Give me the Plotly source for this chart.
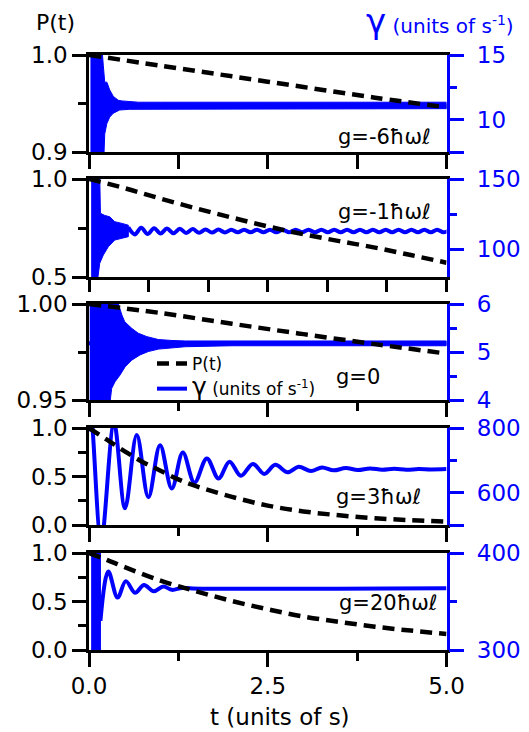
import plotly.graph_objects as go

BLUE = "#0000FF"
FONT = "DejaVu Sans"

# ---------------- data ----------------
# panel 1 : g = -6 hbar omega l
t_P1 = [0, 1, 2, 3, 4, 5]
P1 = [1.0, 0.989, 0.978, 0.967, 0.956, 0.946]
t_up1 = [0.02, 0.18, 0.20, 0.22, 0.25, 0.29, 0.34, 0.41, 0.46, 0.57, 0.69, 1.0, 5.0]
up1 = [15.6, 15.6, 14.2, 12.9, 12.9, 12.3, 11.8, 11.5, 11.45, 11.4, 11.35, 11.35, 11.35]
t_lo1 = [0.02, 0.21, 0.22, 0.25, 0.29, 0.34, 0.43, 0.57, 0.69, 1.0, 5.0]
lo1 = [7.4, 7.4, 8.9, 9.7, 10.2, 10.5, 10.75, 10.8, 10.85, 10.85, 10.85]
t_g1 = [0.5, 5.0]
g1 = [11.1, 11.1]

# panel 2 : g = -1 hbar omega l
t_P2 = [0, 0.5, 1, 1.5, 2, 2.5, 3, 3.5, 4, 4.5, 5]
P2 = [1.0, 0.953, 0.9, 0.85, 0.803, 0.758, 0.718, 0.683, 0.65, 0.612, 0.573]
t_up2 = [0.03, 0.15, 0.16, 0.22, 0.29, 0.36, 0.46, 0.55]
up2 = [152, 152, 125.5, 124, 123, 119.5, 118.3, 117]
t_lo2 = [0.03, 0.12, 0.15, 0.20, 0.27, 0.36, 0.46, 0.55]
lo2 = [78, 78, 89.8, 95.7, 101.6, 106.4, 107.6, 108.8]
t_g2 = [0.55, 0.64, 0.73, 0.82, 0.91, 1.00, 1.09, 1.18, 1.27, 1.36, 1.45, 1.54,
        1.63, 1.72, 1.81, 1.90, 1.99, 2.08, 2.17, 2.26, 2.35, 2.44, 2.53, 2.62,
        2.71, 2.80, 2.89, 2.98, 3.07, 3.16, 3.25, 3.34, 3.43, 3.52, 3.61, 3.70,
        3.79, 3.88, 3.97, 4.06, 4.15, 4.24, 4.33, 4.42, 4.51, 4.60, 4.69, 4.78,
        4.87, 4.96, 5.05]
g2 = [115.5, 110.4, 115.2, 110.7, 114.9, 111.0, 114.6, 111.2, 114.4, 111.4, 114.2, 111.6,
      114.0, 111.7, 113.9, 111.8, 113.8, 111.9, 113.8, 111.9, 113.8, 111.9, 113.8, 111.9,
      113.8, 111.9, 113.8, 111.9, 113.8, 111.9, 113.8, 111.9, 113.8, 111.9, 113.8, 111.9,
      113.8, 111.9, 113.8, 111.9, 113.8, 111.9, 113.8, 111.9, 113.8, 111.9, 113.8, 111.9,
      113.8, 111.9, 113.8]

# panel 3 : g = 0
t_P3 = [0, 1, 2, 3, 4, 5]
P3 = [1.0, 0.9953, 0.9897, 0.9843, 0.9791, 0.9742]
t_up3 = [0.01, 0.39, 0.46, 0.50, 0.60, 0.69, 0.81, 0.97, 1.16, 1.35, 2.0, 5.0]
up3 = [6.1, 6.1, 5.77, 5.63, 5.49, 5.39, 5.32, 5.26, 5.24, 5.23, 5.23, 5.23]
t_lo3 = [0.01, 0.29, 0.317, 0.364, 0.434, 0.504, 0.597, 0.714, 0.831, 0.971, 1.158, 1.345, 2.0, 5.0]
lo3 = [3.9, 3.9, 4.24, 4.38, 4.52, 4.69, 4.83, 4.94, 5.01, 5.06, 5.09, 5.11, 5.13, 5.13]
t_g3 = [0.0, 5.0]
g3 = [5.18, 5.18]

# panel 4 : g = 3 hbar omega l
t_P4 = [0, 0.25, 0.5, 0.75, 1.0, 1.25, 1.5, 2.0, 2.5, 3.0, 3.5, 4.0, 4.5, 5.0]
P4 = [1.0, 0.88, 0.76, 0.65, 0.56, 0.47, 0.40, 0.29, 0.20, 0.14, 0.10, 0.07, 0.05, 0.035]
t_g4 = [0.0, 0.03, 0.17, 0.35, 0.504, 0.668, 0.831, 0.994, 1.158, 1.312, 1.475, 1.648,
        1.811, 1.965, 2.124, 2.292, 2.451, 2.605, 2.777, 2.931, 3.104, 3.258, 3.421,
        3.59, 3.76, 3.93, 4.10, 4.27, 4.44, 4.61, 4.78, 5.0]
g4 = [790, 830, 450, 815, 552, 778, 586, 747, 613, 724, 631, 706,
      644, 696, 652, 689, 658, 686, 663, 680, 667, 678, 669,
      676, 670, 675, 671, 674, 671, 673, 672, 673]

# panel 5 : g = 20 hbar omega l
t_P5 = [0, 0.25, 0.5, 1, 1.5, 2, 2.5, 3, 3.5, 4, 4.5, 5]
P5 = [1.0, 0.93, 0.855, 0.715, 0.605, 0.505, 0.42, 0.345, 0.29, 0.24, 0.2, 0.165]
t_up5 = [0.03, 0.16]
up5 = [405, 405]
t_lo5 = [0.03, 0.16]
lo5 = [295, 295]
t_g5 = [0.16, 0.27, 0.40, 0.515, 0.644, 0.77, 0.905, 1.04, 1.16, 1.30, 1.45, 5.0]
g5 = [330, 381, 354, 371, 359, 367, 360.5, 365.5, 362, 364, 363.4, 363.6]

panel_labels = ["g=-6ħωℓ", "g=-1ħωℓ", "g=0", "g=3ħωℓ", "g=20ħωℓ"]
x_ticks = [0.0, 2.5, 5.0]
P_ranges = [[0.9, 1.0], [0.5, 1.0], [0.95, 1.0], [0.0, 1.0], [0.0, 1.0]]
P_ticks = [[0.9, 1.0], [0.5, 1.0], [0.95, 1.0], [0.0, 0.5, 1.0], [0.0, 0.5, 1.0]]
G_ranges = [[7.5, 15], [80, 150], [4, 6], [500, 800], [300, 400]]
G_ticks = [[7.5, 10, 15], [100, 150], [4, 5, 6], [500, 600, 800], [300, 400]]
G_ticktext = [["", "10", "15"], ["100", "150"], ["4", "5", "6"], ["", "600", "800"], ["300", "400"]]

P_t = [t_P1, t_P2, t_P3, t_P4, t_P5]
P_v = [P1, P2, P3, P4, P5]
bands = [(t_up1, up1, t_lo1, lo1), (t_up2, up2, t_lo2, lo2), (t_up3, up3, t_lo3, lo3),
         None, (t_up5, up5, t_lo5, lo5)]
lines = [(t_g1, g1), (t_g2, g2), (t_g3, g3), (t_g4, g4), (t_g5, g5)]

# ---------------- layout helpers (styling) ----------------
W, H = 529, 732
XL, XR = 89, 446.5
YDOM = [(55, 152), (179, 277), (304, 400), (428, 525), (553, 650)]
P_fmt = [".1f", ".1f", ".2f", ".1f", ".1f"]
P_minor = [0.05, 0.25, 0.025, 0.25, 0.25]
G_minor = [2.5, 25, 0.5, 100, 50]
x_tickvals_panel = [
    [0, 1.25, 2.5, 3.75, 5],
    [0, 0.8333, 1.6667, 2.5, 3.3333, 4.1667, 5],
    x_ticks, x_ticks, x_ticks]

fig = go.Figure()
layout = {}

for i in range(5):
    n = i + 1
    xa = "x" if n == 1 else f"x{n}"
    yg = "y" if n == 1 else f"y{2 * n - 1}"
    yp = f"y{2 * n}"
    # gamma: dense oscillation envelope
    if bands[i] is not None:
        tu, u, tl, lo = bands[i]
        fig.add_trace(go.Scatter(
            x=list(tu) + list(tl)[::-1], y=list(u) + list(lo)[::-1],
            fill="toself", fillcolor=BLUE, mode="lines",
            line=dict(color=BLUE, width=1), hoverinfo="skip",
            showlegend=False, xaxis=xa, yaxis=yg))
    tg, gv = lines[i]
    fig.add_trace(go.Scatter(
        x=tg, y=gv, mode="lines",
        line=dict(color=BLUE, width=4, shape="spline", smoothing=1.0),
        name='<span style="font-size:25px">γ</span> (units of s<sup>-1</sup>)',
        showlegend=(n == 3), legendrank=2, xaxis=xa, yaxis=yg))
    # P(t)
    fig.add_trace(go.Scatter(
        x=P_t[i], y=P_v[i], mode="lines",
        line=dict(color="black", width=4.5, dash="12px,7px", shape="spline"),
        name="P(t)", showlegend=(n == 3), legendrank=1, xaxis=xa, yaxis=yp))

    y0, y1 = YDOM[i]
    dom = [1 - y1 / H, 1 - y0 / H]
    xkey = "xaxis" if n == 1 else f"xaxis{n}"
    gkey = "yaxis" if n == 1 else f"yaxis{2 * n - 1}"
    pkey = f"yaxis{2 * n}"
    is_last = n == 5
    xminor = dict(ticks="", ticklen=0) if n in (1, 2) else dict(
        ticks="outside", ticklen=8, tickwidth=2.5, tickcolor="black", dtick=1.25, tick0=0)
    layout[xkey] = dict(
        domain=[XL / W, XR / W], range=[0, 5], anchor=yg, automargin=False,
        showline=True, linecolor="black", linewidth=2.5, mirror=True,
        ticks="outside", ticklen=14 if n != 2 else 12, tickwidth=2.5, tickcolor="black",
        tickmode="array", tickvals=x_tickvals_panel[i] if not is_last else x_ticks,
        minor=xminor,
        showticklabels=is_last, tickformat=".1f",
        tickfont=dict(family=FONT, size=23, color="black"),
        showgrid=False, zeroline=False, fixedrange=True)
    gr = G_ranges[i]
    eps_g = (gr[1] - gr[0]) * 1e-6
    layout[gkey] = dict(
        domain=dom, range=[gr[0] - eps_g, gr[1] + eps_g], anchor=xa, side="right",
        automargin=False, ticklabelstandoff=8,
        showline=True, linecolor=BLUE, linewidth=2.5,
        ticks="outside", ticklen=15, tickwidth=2.5, tickcolor=BLUE,
        tickmode="array", tickvals=G_ticks[i], ticktext=G_ticktext[i],
        minor=dict(ticks="outside", ticklen=8, tickwidth=2.5, tickcolor=BLUE,
                   dtick=G_minor[i], tick0=0),
        tickfont=dict(family=FONT, size=23, color=BLUE),
        showgrid=False, zeroline=False)
    pr = P_ranges[i]
    eps_p = (pr[1] - pr[0]) * 1e-6
    layout[pkey] = dict(
        domain=dom, range=[pr[0] - eps_p, pr[1] + eps_p], anchor=xa, side="left",
        overlaying=yg, automargin=False,
        showline=True, linecolor="black", linewidth=2.5,
        ticks="outside", ticklen=14, tickwidth=2.5, tickcolor="black",
        tickmode="array", tickvals=P_ticks[i], tickformat=P_fmt[i],
        minor=dict(ticks="outside", ticklen=8, tickwidth=2.5, tickcolor="black",
                   dtick=P_minor[i], tick0=0),
        tickfont=dict(family=FONT, size=23, color="black"),
        showgrid=False, zeroline=False)

label_pos = [(433, 137), (433, 212), (382, 377), (423, 497), (440, 603)]
annotations = []
for i, (lx, ly) in enumerate(label_pos):
    annotations.append(dict(
        text=panel_labels[i], x=lx / W, y=1 - ly / H, xref="paper", yref="paper",
        xanchor="right", yanchor="middle", showarrow=False,
        font=dict(family=FONT, size=21, color="black")))
annotations.append(dict(
    text="P(t)", x=55 / W, y=1 - 23 / H, xref="paper", yref="paper",
    xanchor="center", yanchor="middle", showarrow=False,
    font=dict(family=FONT, size=22, color="black")))
annotations.append(dict(
    text='<span style="font-size:34px">γ</span> (units of s<sup>-1</sup>)',
    x=516 / W, y=1 - 21 / H, xref="paper", yref="paper",
    xanchor="right", yanchor="middle", showarrow=False,
    font=dict(family=FONT, size=20, color=BLUE)))
annotations.append(dict(
    text="t (units of s)", x=280 / W, y=1 - 717 / H, xref="paper", yref="paper",
    xanchor="center", yanchor="middle", showarrow=False,
    font=dict(family=FONT, size=23, color="black")))

fig.update_layout(
    width=W, height=H, margin=dict(l=0, r=0, t=0, b=0, autoexpand=False),
    paper_bgcolor="white", plot_bgcolor="white",
    showlegend=True,
    legend=dict(x=152 / W, y=1 - 346 / H, xanchor="left", yanchor="top",
                bgcolor="rgba(0,0,0,0)", font=dict(family=FONT, size=17, color="black"),
                traceorder="normal", itemwidth=30, tracegroupgap=0),
    annotations=annotations,
    **layout)

fig.write_html("out.html")
